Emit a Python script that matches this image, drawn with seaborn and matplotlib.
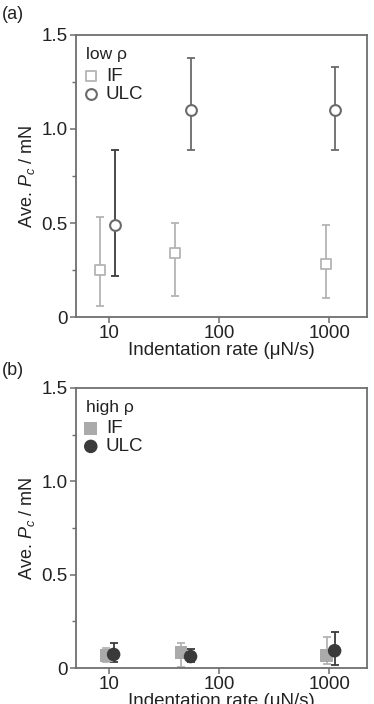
import numpy as np
import pandas as pd
import matplotlib
matplotlib.use("Agg")
import matplotlib.pyplot as plt
import seaborn as sns
from matplotlib.ticker import FixedLocator, FuncFormatter, NullLocator

sns.set_theme(style="white")
plt.rcParams['font.family'] = ['Liberation Sans', 'DejaVu Sans']
plt.rcParams['mathtext.fontset'] = 'custom'
plt.rcParams['mathtext.it'] = 'Liberation Sans:italic'
plt.rcParams['mathtext.rm'] = 'Liberation Sans'

# ---- data (a) low rho ----
low_if_rate = [8.3, 40, 930]
low_if_val = [0.25, 0.34, 0.28]
low_if_lo = [0.06, 0.11, 0.10]
low_if_hi = [0.53, 0.50, 0.49]

low_ulc_rate = [11.3, 55, 1120]
low_ulc_val = [0.49, 1.10, 1.10]
low_ulc_lo = [0.22, 0.89, 0.89]
low_ulc_hi = [0.89, 1.38, 1.33]

# ---- data (b) high rho ----
high_if_rate = [9.4, 45, 950]
high_if_val = [0.066, 0.084, 0.066]
high_if_lo = [0.03, 0.005, 0.02]
high_if_hi = [0.11, 0.134, 0.166]

high_ulc_rate = [11, 55, 1120]
high_ulc_val = [0.073, 0.062, 0.093]
high_ulc_lo = [0.03, 0.03, 0.014]
high_ulc_hi = [0.134, 0.10, 0.194]

y_ticks = [0, 0.5, 1.0, 1.5]
x_ticks = [10, 100, 1000]

c_if = "#b4b4b4"
c_ulc = "#6a6a6a"
c_ulc_dark = "#3c3c3c"
c_spine = "#6e6e6e"
c_text = "#222222"

fig = plt.figure(figsize=(3.74, 7.04), dpi=100)
axa = fig.add_axes([0.203, 0.5497, 0.778, 0.4006])
axb = fig.add_axes([0.203, 0.051, 0.778, 0.398])


def style(ax):
    ax.set_xscale("log")
    ax.set_xlim(5, 2200)
    ax.set_ylim(0, 1.5)
    ax.yaxis.set_major_locator(FixedLocator(y_ticks))
    ax.yaxis.set_minor_locator(FixedLocator([0.25, 0.75, 1.25]))
    ax.yaxis.set_major_formatter(FuncFormatter(lambda v, p: "0" if v == 0 else f"{v:.1f}"))
    ax.xaxis.set_major_locator(FixedLocator(x_ticks))
    ax.xaxis.set_minor_locator(NullLocator())
    ax.xaxis.set_major_formatter(FuncFormatter(lambda v, p: f"{int(round(v))}"))
    for s in ax.spines.values():
        s.set_visible(True)
        s.set_color(c_spine)
        s.set_linewidth(1.3)
    ax.tick_params(axis="both", which="major", direction="out", length=4, width=1.1,
                   color=c_spine, labelsize=13.5, pad=2, labelcolor=c_text,
                   left=True, bottom=True)
    ax.tick_params(axis="y", which="minor", direction="out", length=3, width=1.0,
                   color=c_spine, left=True)
    ax.set_xlabel("Indentation rate (\u03bcN/s)", fontsize=13.5, labelpad=0, color=c_text)
    ax.set_ylabel("Ave. $P_c$ / mN", fontsize=13, labelpad=3, color=c_text)


def errs(val, lo, hi):
    v = np.array(val)
    return np.vstack([v - np.array(lo), np.array(hi) - v])


def legend(ax, title):
    ax.text(0.036, 0.93, title, transform=ax.transAxes, fontsize=12.5, color=c_text,
            ha="left", va="center")
    leg = ax.legend(loc="upper left", bbox_to_anchor=(0.022, 0.885), frameon=False,
                    fontsize=13.5, handletextpad=0.35, handlelength=0.9,
                    borderaxespad=0, borderpad=0, labelspacing=0.05)
    for t in leg.get_texts():
        t.set_color(c_text)


# ---- panel (a) ----
axa.errorbar(low_if_rate, low_if_val, yerr=errs(low_if_val, low_if_lo, low_if_hi),
             fmt="none", ecolor=c_if, elinewidth=1.3, capsize=3.2, capthick=1.3, zorder=1)
ulc_ecolors = [c_ulc_dark, c_ulc, c_ulc]
for i in range(len(low_ulc_rate)):
    axa.errorbar([low_ulc_rate[i]], [low_ulc_val[i]],
                 yerr=errs([low_ulc_val[i]], [low_ulc_lo[i]], [low_ulc_hi[i]]),
                 fmt="none", ecolor=ulc_ecolors[i], elinewidth=1.3, capsize=3.2,
                 capthick=1.3, zorder=1)
df_a = pd.DataFrame({
    "rate": low_if_rate + low_ulc_rate,
    "val": low_if_val + low_ulc_val,
    "steel": ["IF"] * 3 + ["ULC"] * 3,
})
sns.scatterplot(data=df_a[df_a.steel == "IF"], x="rate", y="val", ax=axa, marker="s",
                s=55, facecolor="white", edgecolor=c_if, linewidth=1.3, zorder=3,
                label="IF")
sns.scatterplot(data=df_a[df_a.steel == "ULC"], x="rate", y="val", ax=axa, marker="o",
                s=60, facecolor="white", edgecolor=c_ulc, linewidth=1.5, zorder=3,
                label="ULC")
style(axa)
legend(axa, "low \u03c1")

# ---- panel (b) ----
axb.errorbar(high_if_rate, high_if_val, yerr=errs(high_if_val, high_if_lo, high_if_hi),
             fmt="none", ecolor=c_if, elinewidth=1.3, capsize=3.2, capthick=1.3, zorder=1)
axb.errorbar(high_ulc_rate, high_ulc_val, yerr=errs(high_ulc_val, high_ulc_lo, high_ulc_hi),
             fmt="none", ecolor=c_ulc_dark, elinewidth=1.3, capsize=3.2, capthick=1.3, zorder=2)
df_b = pd.DataFrame({
    "rate": high_if_rate + high_ulc_rate,
    "val": high_if_val + high_ulc_val,
    "steel": ["IF"] * 3 + ["ULC"] * 3,
})
sns.scatterplot(data=df_b[df_b.steel == "IF"], x="rate", y="val", ax=axb, marker="s",
                s=85, color="#aaaaaa", edgecolor="none", linewidth=0, zorder=3, label="IF")
sns.scatterplot(data=df_b[df_b.steel == "ULC"], x="rate", y="val", ax=axb, marker="o",
                s=95, color="#3a3a3a", edgecolor="none", linewidth=0, zorder=4, label="ULC")
style(axb)
legend(axb, "high \u03c1")

fig.text(0.005, 0.979, "(a)", fontsize=13, color=c_text, va="center", ha="left")
fig.text(0.005, 0.474, "(b)", fontsize=13, color=c_text, va="center", ha="left")

fig.savefig("out.png", dpi=100, facecolor="white")
